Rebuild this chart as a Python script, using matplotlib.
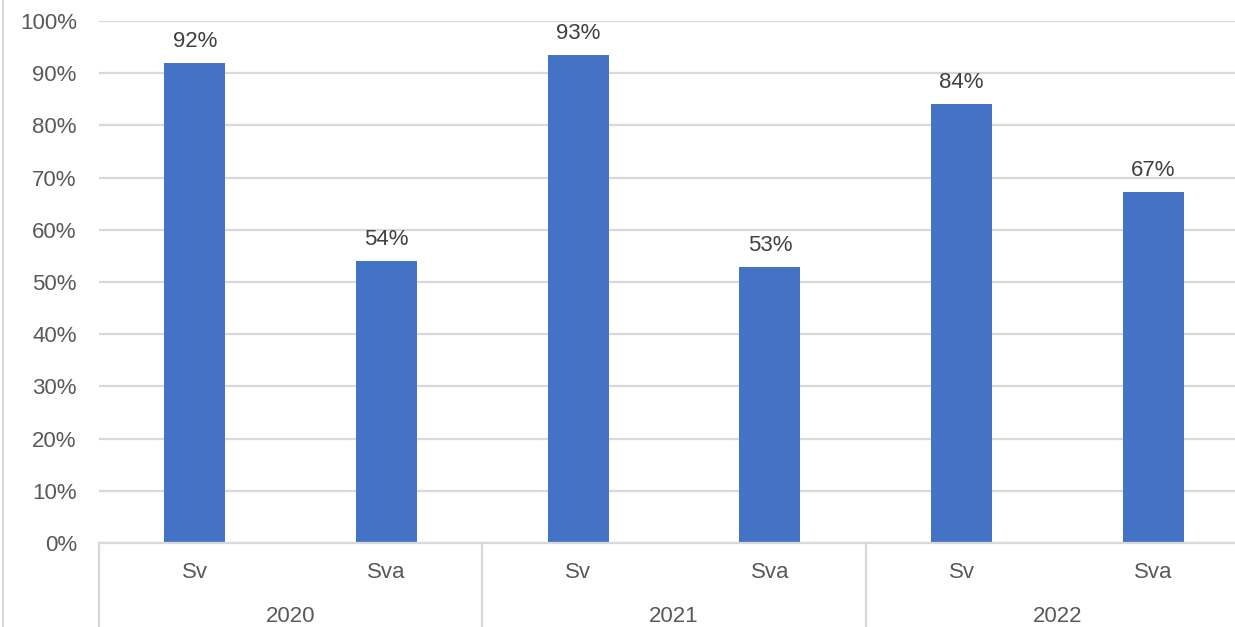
import matplotlib
matplotlib.use("Agg")
import matplotlib.pyplot as plt
from matplotlib.transforms import blended_transform_factory

years = ["2020", "2021", "2022"]
subjects = ["Sv", "Sva"]
values = [92, 54, 93.4, 52.8, 84.1, 67.2]
labels = ["92%", "54%", "93%", "53%", "84%", "67%"]
yticks = [0, 10, 20, 30, 40, 50, 60, 70, 80, 90, 100]

plt.rcParams['font.family'] = ['Liberation Sans', 'DejaVu Sans']

W, H = 1235, 627
fig = plt.figure(figsize=(W / 100, H / 100), dpi=100)
ax = fig.add_axes([99 / W, (H - 543) / H, 1150 / W, 522 / H])

bar_color = "#4472C4"
grid_color = "#D9D9D9"
text_gray = "#595959"
fs = 16

x = list(range(len(values)))
ax.bar(x, values, width=0.318, color=bar_color, zorder=3)
for xi, v, lab in zip(x, values, labels):
    ax.annotate(lab, (xi, v), xytext=(0, 8), textcoords="offset points",
                ha="center", va="bottom", fontsize=fs, color="#404040")

ax.set_xlim(-0.5, len(values) - 0.5)
ax.set_ylim(0, 100)
ax.set_yticks(yticks)
ax.set_yticklabels([f"{t}%" for t in yticks], fontsize=fs, color=text_gray)
ax.tick_params(axis="y", length=0, pad=16)
ax.tick_params(axis="x", length=0, labelbottom=False)
ax.grid(axis="y", color=grid_color, linewidth=1.6, zorder=0)
for s in ["left", "right", "top"]:
    ax.spines[s].set_visible(False)
ax.spines["bottom"].set_color(grid_color)
ax.spines["bottom"].set_linewidth(1.6)
ax.spines["bottom"].set_zorder(4)

trans = blended_transform_factory(ax.transData, ax.transAxes)
# first-level labels
for i, xi in enumerate(x):
    ax.text(xi, -30 / 522, subjects[i % len(subjects)], transform=trans,
            ha="center", va="center", fontsize=fs, color=text_gray)
# second-level labels
n = len(subjects)
for j, yr in enumerate(years):
    cx = (x[j * n] + x[j * n + n - 1]) / 2
    ax.text(cx, -73 / 522, yr, transform=trans, ha="center", va="center",
            fontsize=fs, color=text_gray)
# separators
for j in range(len(years) + 1):
    sx = j * n - 0.5
    ax.plot([sx, sx], [0, -84 / 522], transform=trans, color=grid_color,
            linewidth=1.6, clip_on=False)

# figure left border
fig.add_artist(plt.Line2D([3 / W, 3 / W], [0, 1], color=grid_color,
                          linewidth=1.5, transform=fig.transFigure))

fig.savefig("out.png", dpi=100)
